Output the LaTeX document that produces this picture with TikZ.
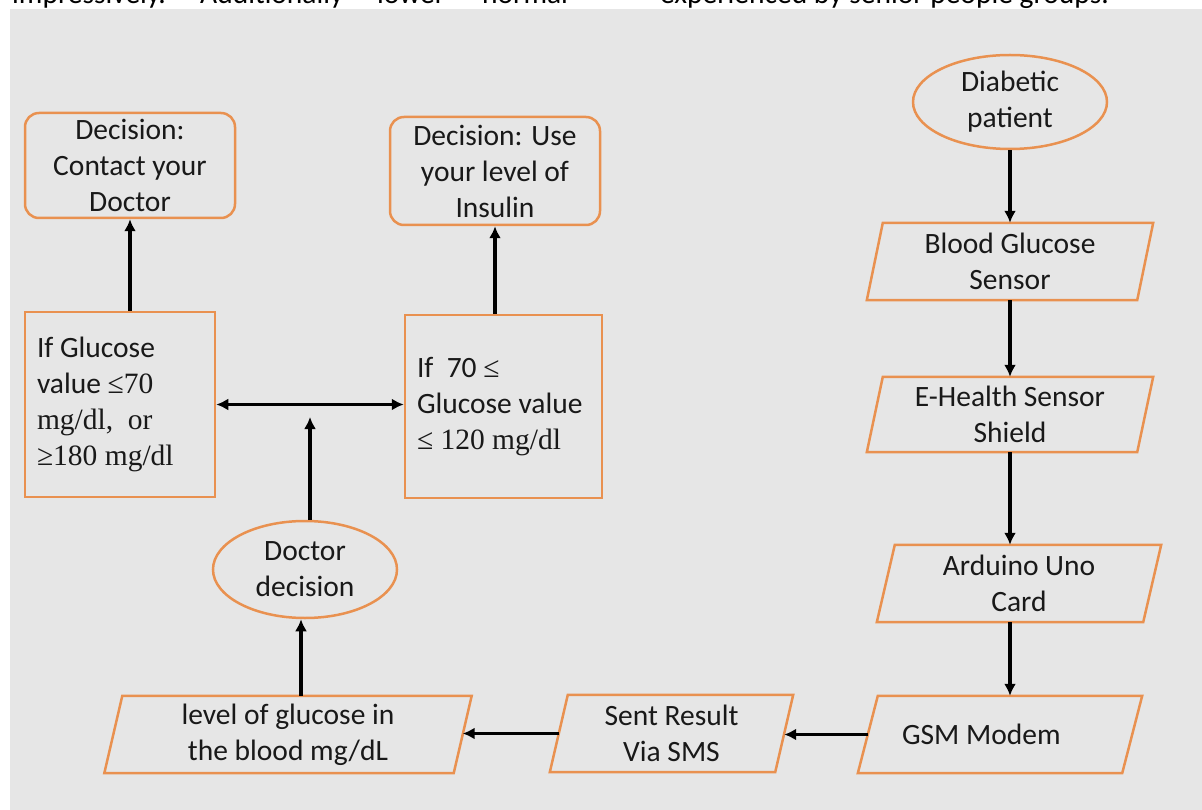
\documentclass[tikz,border=0pt]{standalone}
\usepackage{fontspec}
\setmainfont{Carlito}
\newfontfamily\tnr{Liberation Serif}
\usetikzlibrary{shapes.geometric,arrows.meta}
\definecolor{bgc}{RGB}{230,230,230}
\definecolor{boxc}{RGB}{233,145,80}
\definecolor{txt}{RGB}{25,25,25}
\tikzset{
  base/.style={font=\fontsize{29.5}{36}\selectfont, text=txt, inner sep=0pt, align=center},
  obox/.style={base, draw=boxc, line width=2.5pt},
  oval/.style={obox, ellipse},
  rbox/.style={obox, rectangle, rounded corners=14pt},
  sbox/.style={obox, rectangle},
  pbox/.style={base, rectangle, draw=none},
  pline/.style={draw=boxc, line width=2.5pt, line join=miter},
  arr/.style={line width=3.8pt, -{Latex[length=12pt,width=12pt]}},
  darr/.style={line width=3.8pt, {Latex[length=12pt,width=12pt]}-{Latex[length=12pt,width=12pt]}},
}
\newcommand\parabox[2]{%
  \draw[pline] ([xshift=#2pt]#1.north west) -- ([xshift=#2pt]#1.north east)
    -- ([xshift=-#2pt]#1.south east) -- ([xshift=-#2pt]#1.south west) -- cycle;}
\begin{document}
\begin{tikzpicture}[x=1pt,y=-1pt]
\useasboundingbox (0,0) rectangle (1202,810);
\fill[bgc] (10,9) rectangle (1202,810);
% text line above the figure, cut by the top edge as in the reference
\node[base, anchor=base west, text=black] (t1) at (12,4) {impressively.};
\node[base, anchor=base west, text=black] (t2) at (200,4) {Additionally};
\node[base, anchor=base west, text=black] (t3) at (377,4) {lower};
\node[base, anchor=base west, text=black] (t4) at (482,4) {normal};
\node[base, anchor=base west, text=black] (t5) at (660,4) {experienced by senior people groups.};

% right column
\node[oval, minimum width=194pt, minimum height=94pt] (dp) at (1010,102) {Diabetic\\patient};
\node[pbox, minimum width=270pt, minimum height=77pt] (bgs) at (1010,261.5) {Blood Glucose\\Sensor};
\parabox{bgs}{8}
\node[pbox, minimum width=270pt, minimum height=75pt] (ehs) at (1010,414.5) {E-Health Sensor\\Shield};
\parabox{ehs}{8}
\node[pbox, minimum width=266pt, minimum height=77pt] (ard) at (1019,583.5) {Arduino Uno\\Card};
\parabox{ard}{9}
\node[pbox, minimum width=264pt, minimum height=77pt, text width=196pt, align=flush left] (gsm) at (1000,734.5) {GSM Modem};
\parabox{gsm}{10}

% bottom row
\node[pbox, minimum width=225pt, minimum height=77pt] (sms) at (671.5,733.5) {Sent Result\\Via SMS};
\parabox{sms}{9}
\node[pbox, minimum width=349pt, minimum height=77pt] (lvl) at (288,734.5) {level of glucose in\\the blood mg/dL};
\parabox{lvl}{9}

% left part
\node[oval, minimum width=184pt, minimum height=97pt] (dd) at (305,569.5) {Doctor\\decision};
\node[sbox, minimum width=190pt, minimum height=185pt, text width=166pt, align=flush left] (ifg) at (120,404.5)
  {If Glucose\\value {\tnr≤70}\\{\tnr mg/dl,\ \ or}\\{\tnr≥180 mg/dl}};
\node[sbox, minimum width=197pt, minimum height=183pt, text width=173pt, align=flush left] (ifn) at (503.5,406.5)
  {If\ \ 70 {\tnr≤}\\Glucose value\\{\tnr≤ 120 mg/dl}};
\node[rbox, minimum width=210pt, minimum height=105pt] (dc) at (130,165.5) {Decision:\\Contact your\\Doctor};
\node[rbox, minimum width=210pt, minimum height=108pt] (du) at (495,171) {Decision: Use\\your level of\\Insulin};
\coordinate (jn) at (310,417);

% connectors
\draw[arr] (dp.south) -- (bgs.north);
\draw[arr] (bgs.south) -- (ehs.north);
\draw[arr] (ehs.south) -- (ehs.south |- ard.north);
\draw[arr] (ard.south -| dp.south) -- (gsm.north -| dp.south);
\draw[arr] (gsm.west) -- (gsm.west -| sms.east);
\draw[arr] (sms.west) -- (sms.west -| lvl.east);
\draw[arr] ([xshift=-4pt]dd.south |- lvl.north) -- ([xshift=-4pt]dd.south);
\draw[arr] (dd.north -| jn) -- (jn);
\draw[darr] (ifg.east) -- (ifg.east -| ifn.west);
\draw[arr] (ifg.north -| dc.south) -- (dc.south);
\draw[arr] (ifn.north -| du.south) -- (du.south);
\end{tikzpicture}
\end{document}
